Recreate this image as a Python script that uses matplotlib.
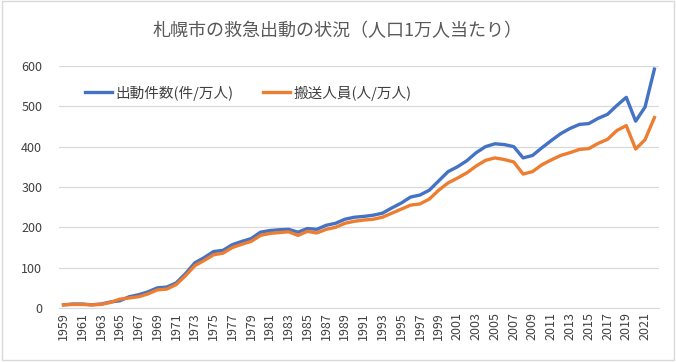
import matplotlib
matplotlib.use("Agg")
import matplotlib.pyplot as plt
from matplotlib.patches import Rectangle

plt.rcParams['font.family'] = ['Noto Sans CJK JP', 'DejaVu Sans']

years = list(range(1959, 2023))
dispatch = [8, 10, 10, 8, 10, 15, 18, 28, 33, 40, 50, 52, 62, 85, 112, 125, 140, 143, 157, 165,
            172, 188, 192, 194, 195, 188, 197, 195, 205, 210, 220, 225, 227, 230, 235, 248, 260, 275,
            280, 292, 315, 338, 350, 365, 385, 400, 407, 405, 400, 372, 378, 397, 415, 432, 445, 455,
            457, 470, 480, 502, 522, 463, 498, 592]
transport = [8, 9, 9, 8, 9, 14, 22, 25, 28, 35, 45, 47, 58, 80, 105, 118, 132, 136, 150, 158,
             165, 180, 185, 187, 189, 180, 190, 186, 195, 200, 210, 215, 218, 220, 225, 235, 245, 255,
             258, 270, 292, 310, 322, 335, 352, 366, 372, 368, 362, 332, 338, 355, 367, 378, 385, 393,
             395, 408, 418, 440, 452, 394, 417, 472]
labels = ['出動件数(件/万人)', '搬送人員(人/万人)']
title = '札幌市の救急出動の状況（人口1万人当たり）'

fig = plt.figure(figsize=(6.76, 3.62), dpi=100)
fig.patches.append(Rectangle((0.003, 0.006), 0.994, 0.99, transform=fig.transFigure,
                             fill=False, edgecolor='#d9d9d9', linewidth=1))
ax = fig.add_axes([0.087, 0.149, 0.888, 0.669])

ax.plot(years, dispatch, color='#4472C4', linewidth=2.4, label=labels[0], zorder=3)
ax.plot(years, transport, color='#ED7D31', linewidth=2.4, label=labels[1], zorder=3)

ax.set_xlim(1958.5, 2022.5)
ax.set_ylim(0, 600)
ax.set_yticks(range(0, 601, 100))
ax.set_xticks(years[::2])
ax.set_xticklabels([str(y) for y in years[::2]], rotation=90)
ax.tick_params(axis='both', length=0, labelsize=9, colors='#404040')
ax.tick_params(axis='y', pad=12)
ax.tick_params(axis='x', pad=3)
ax.grid(axis='y', color='#d9d9d9', linewidth=0.9)
ax.set_axisbelow(True)
for s in ['top', 'right', 'left']:
    ax.spines[s].set_visible(False)
ax.spines['bottom'].set_color('#d9d9d9')

ax.legend(loc='center left', bbox_to_anchor=(0.043, 0.888), ncol=2, frameon=False,
          fontsize=10.5, labelcolor='#404040', handlelength=1.85, handletextpad=0.25,
          columnspacing=2.0, borderpad=0, borderaxespad=0)

fig.text(0.5, 0.915, title, ha='center', va='center', fontsize=13, color='#595959')

fig.savefig('out.png', dpi=100)
